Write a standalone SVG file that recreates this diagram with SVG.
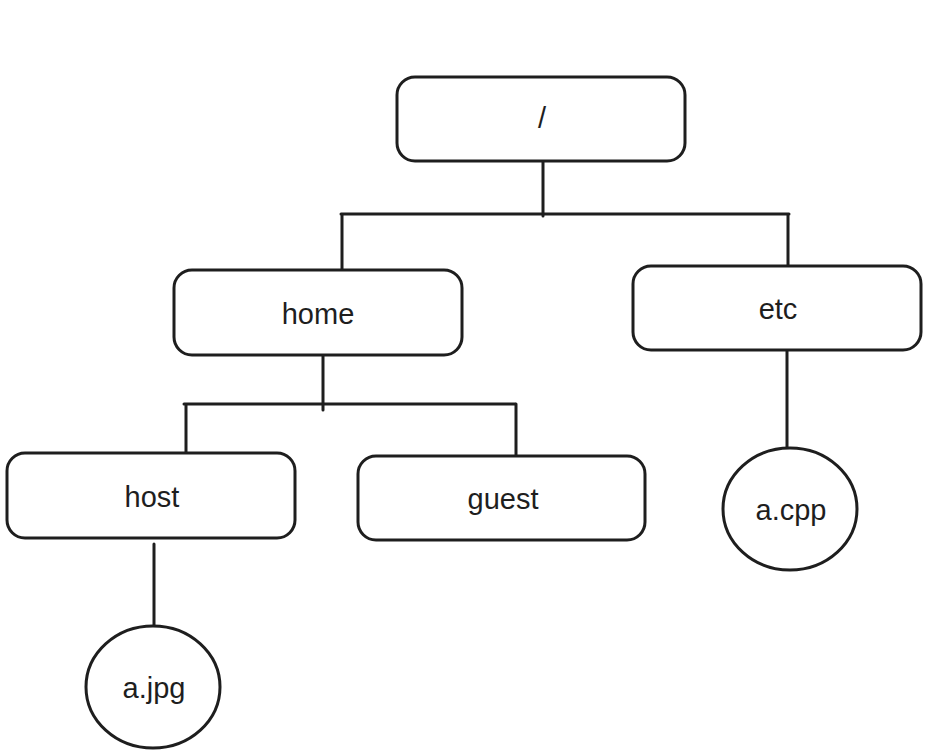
<svg xmlns="http://www.w3.org/2000/svg" width="928" height="752" viewBox="0 0 928 752">
<style>
.box{fill:#fff;stroke:#1e1e1e;stroke-width:3}
.c{fill:none;stroke:#1e1e1e;stroke-width:3;stroke-linecap:round}
.t{font-family:"Liberation Sans",Arial,sans-serif;font-size:29px;fill:#1e1e1e;text-anchor:middle}
</style>
<rect width="928" height="752" fill="#fff"/>
<g id="connectors">
<path class="c" d="M543 161 V216 M341 214 H789 M342 214 V272 M788 214 V270"/>
<path class="c" d="M323 355 V410 M184 404 H515 M186 404 V462 M516 404 V455"/>
<path class="c" d="M154 544 V625 M787 350 V447"/>
</g>
<g id="root"><rect class="box" x="397" y="77" width="288" height="84" rx="18"/><text class="t" x="542" y="128">/</text></g>
<g id="home"><rect class="box" x="174" y="270" width="288" height="85" rx="18"/><text class="t" x="318" y="324">home</text></g>
<g id="etc"><rect class="box" x="633" y="266" width="288" height="84" rx="18"/><text class="t" x="778" y="319">etc</text></g>
<g id="host"><rect class="box" x="7" y="453" width="288" height="85" rx="18"/><text class="t" x="152" y="507">host</text></g>
<g id="guest"><rect class="box" x="358" y="456" width="287" height="84" rx="18"/><text class="t" x="503" y="509">guest</text></g>
<g id="ajpg"><ellipse class="box" cx="153" cy="687" rx="67" ry="61"/><text class="t" x="154" y="698">a.jpg</text></g>
<g id="acpp"><ellipse class="box" cx="790" cy="509" rx="67" ry="61"/><text class="t" x="791" y="520">a.cpp</text></g>
</svg>
